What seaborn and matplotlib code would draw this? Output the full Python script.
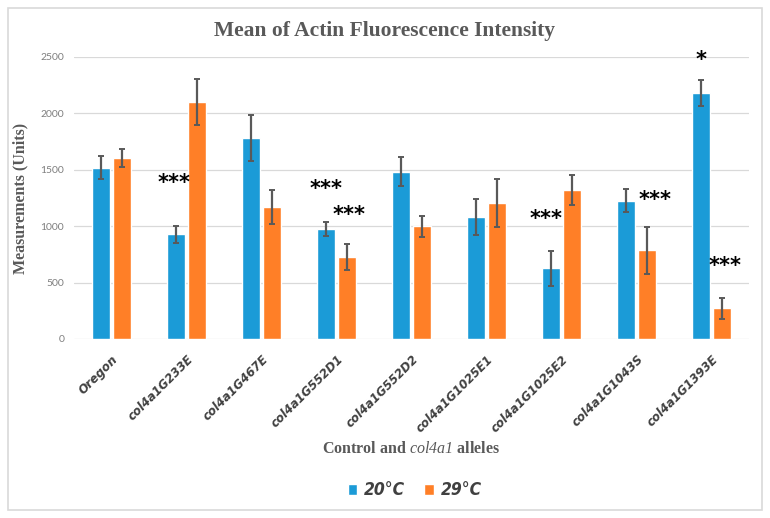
import pandas as pd
import matplotlib.pyplot as plt
import seaborn as sns
from matplotlib.patches import Rectangle

# Data
alleles = ["Oregon", "col4a1G233E", "col4a1G467E", "col4a1G552D1", "col4a1G552D2",
           "col4a1G1025E1", "col4a1G1025E2", "col4a1G1043S", "col4a1G1393E"]
temps = ["20°C", "29°C"]
mean_20 = [1520, 930, 1780, 975, 1483, 1081, 629, 1226, 2180]
mean_29 = [1605, 2100, 1170, 727, 998, 1206, 1321, 786, 271]
err_20 = [100, 75, 205, 58, 127, 160, 155, 100, 118]
err_29 = [83, 205, 150, 114, 93, 215, 137, 208, 96]

# significance marks: (allele index, temp index, label, y position)
stars = [(1, 0, "***", 1386), (3, 0, "***", 1330), (3, 1, "***", 1096),
         (6, 0, "***", 1066), (7, 1, "***", 1235), (8, 0, "*", 2475), (8, 1, "***", 644)]
star_dx = {(1, 0): -0.02, (3, 0): 0.0, (3, 1): 0.03, (6, 0): -0.07, (7, 1): 0.11,
           (8, 0): 0.0, (8, 1): 0.04}

BLUE = "#1B9BD7"
ORANGE = "#FF7F27"

df = pd.DataFrame({
    "allele": alleles * 2,
    "temp": [temps[0]] * len(alleles) + [temps[1]] * len(alleles),
    "value": mean_20 + mean_29,
})

sns.set_style("white")
plt.rcParams["font.family"] = ["Lato", "DejaVu Sans"]
plt.rcParams["mathtext.fontset"] = "custom"
plt.rcParams["mathtext.it"] = "Liberation Serif:italic"
plt.rcParams["mathtext.rm"] = "Liberation Serif:italic"

fig = plt.figure(figsize=(7.7, 5.18), dpi=100)
ax = fig.add_axes([74 / 770, 1 - 339 / 518, 675 / 770, 282 / 518])

sns.barplot(data=df, x="allele", y="value", hue="temp", palette=[BLUE, ORANGE],
            width=0.57, gap=0.13, ax=ax, errorbar=None, saturation=1)

# error bars on top of each bar
for cont, errs in zip(ax.containers, [err_20, err_29]):
    xs = [p.get_x() + p.get_width() / 2 for p in cont.patches]
    ys = [p.get_height() for p in cont.patches]
    ax.errorbar(xs, ys, yerr=errs, fmt="none", ecolor="#595959", elinewidth=1.6,
                capsize=2.5, capthick=1.4, zorder=5)

# asterisks
for (ci, hi, lab, y) in stars:
    p = ax.containers[hi].patches[ci]
    x = p.get_x() + p.get_width() / 2 + star_dx[(ci, hi)]
    ax.text(x, y, lab, ha="center", va="center", fontsize=15, fontweight="bold",
            color="black", family="DejaVu Sans")

ax.set_ylim(0, 2500)
ax.set_xlim(-0.5, len(alleles) - 0.5)
ax.set_yticks(range(0, 2501, 500))
ax.yaxis.grid(True, color="#d9d9d9", lw=0.9)
ax.set_axisbelow(True)
sns.despine(ax=ax, left=True, bottom=True)
ax.tick_params(axis="y", labelsize=7.5, colors="#7f7f7f", length=0, pad=7)
ax.tick_params(axis="x", length=0, pad=10)
ax.set_xticks(range(len(alleles)))
ax.set_xticklabels(alleles, rotation=45, ha="right", rotation_mode="anchor",
                   fontsize=9.5, fontstyle="italic", fontweight="bold", color="#404040",
                   family="DejaVu Sans", fontstretch="condensed")
ax.set_xlabel("")
ax.set_ylabel("Measurements (Units)", family="Liberation Serif", fontweight="bold",
              fontsize=11.5, color="#595959", labelpad=9)

fig.text(385 / 770, 1 - 31 / 518, "Mean of Actin Fluorescence Intensity",
         ha="center", va="center", family="Liberation Serif", fontweight="bold",
         fontsize=15.5, color="#595959")
fig.text(411 / 770, 1 - 449 / 518, "Control and $\\mathit{col4a1}$ alleles",
         ha="center", va="center", family="Liberation Serif", fontweight="bold",
         fontsize=11.5, color="#595959")

sns.move_legend(ax, "center", bbox_to_anchor=(0.505, -0.536), ncol=2, title=None,
                frameon=False, handlelength=0.55, handleheight=0.6, handletextpad=0.4,
                columnspacing=1.1,
                prop={"size": 12.5, "style": "italic", "weight": "bold",
                      "family": "DejaVu Sans", "stretch": "condensed"})
for t in ax.get_legend().get_texts():
    t.set_color("#404040")

fig.patches.append(Rectangle((8 / 770, 8 / 518), 754 / 770, 502 / 518,
                             transform=fig.transFigure, fill=False,
                             edgecolor="#d9d9d9", lw=1.2))

plt.savefig("out.png", dpi=100)
plt.close()
